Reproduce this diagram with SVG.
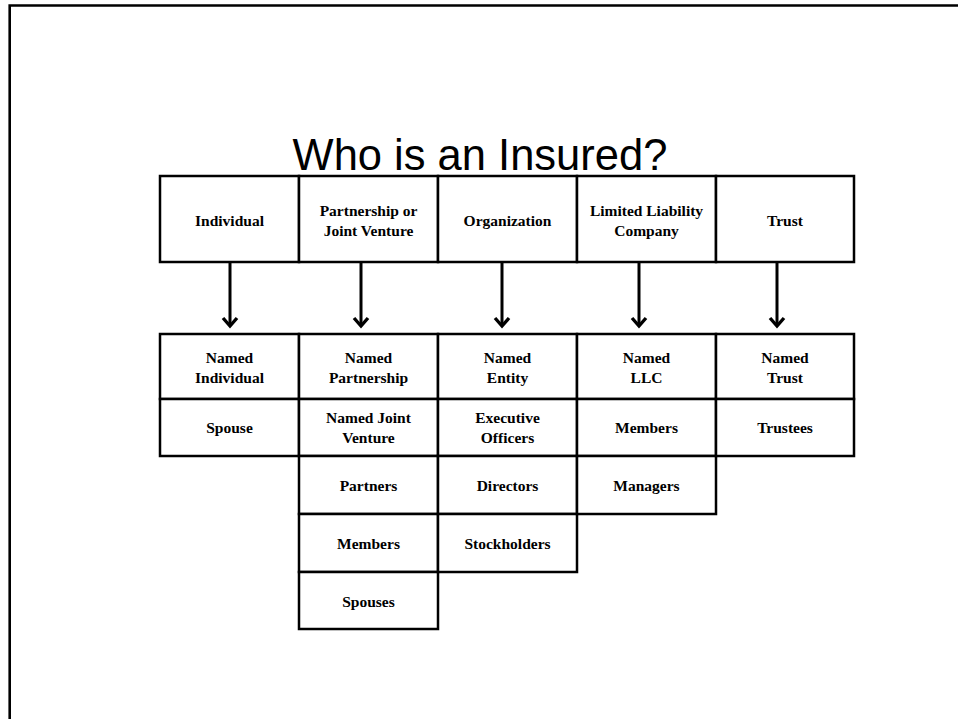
<svg xmlns="http://www.w3.org/2000/svg" width="958" height="719" viewBox="0 0 958 719">
  <style>
    .frame { fill: none; stroke: #000; stroke-width: 2.6; }
    .cell { fill: #fff; stroke: #000; stroke-width: 2.5; }
    .lbl { font-family: "Liberation Serif", "Times New Roman", serif; font-weight: bold; font-size: 15.5px; fill: #000; text-anchor: middle; }
    .title { font-family: "Liberation Sans", Arial, sans-serif; font-size: 43.5px; fill: #000; text-anchor: middle; }
    .conn { fill: none; stroke: #000; stroke-width: 3; }
  </style>
  <defs>
    <!-- open chevron head; drawn along +x so orient="auto" turns it with the line -->
    <marker id="head" markerUnits="userSpaceOnUse" markerWidth="20" markerHeight="20" refX="16" refY="10" orient="auto" viewBox="0 0 20 20">
      <path d="M8,3 L16,10 L8,17" fill="none" stroke="#000" stroke-width="3.4"/>
    </marker>
  </defs>

  <rect width="958" height="719" fill="#fff"/>
  <!-- slide frame (top and left edges) -->
  <path class="frame" d="M9.7,719 L9.7,5.5 L958,5.5"/>

  <text class="title" x="480" y="170">Who is an Insured?</text>

  <!-- header row -->
  <g id="individual">
    <rect class="cell" x="160" y="176" width="139" height="86"/>
    <text class="lbl" x="229.5" y="226">Individual</text>
  </g>
  <g id="partnership">
    <rect class="cell" x="299" y="176" width="139" height="86"/>
    <text class="lbl" x="368.5" y="216">Partnership or</text>
    <text class="lbl" x="368.5" y="236">Joint Venture</text>
  </g>
  <g id="organization">
    <rect class="cell" x="438" y="176" width="139" height="86"/>
    <text class="lbl" x="507.5" y="226">Organization</text>
  </g>
  <g id="llc">
    <rect class="cell" x="577" y="176" width="139" height="86"/>
    <text class="lbl" x="646.5" y="216">Limited Liability</text>
    <text class="lbl" x="646.5" y="236">Company</text>
  </g>
  <g id="trust">
    <rect class="cell" x="716" y="176" width="138" height="86"/>
    <text class="lbl" x="785" y="226">Trust</text>
  </g>

  <!-- connectors -->
  <g id="connectors">
    <line class="conn" x1="230" y1="262" x2="230" y2="326" marker-end="url(#head)"/>
    <line class="conn" x1="361" y1="262" x2="361" y2="326" marker-end="url(#head)"/>
    <line class="conn" x1="502" y1="262" x2="502" y2="326" marker-end="url(#head)"/>
    <line class="conn" x1="639" y1="262" x2="639" y2="326" marker-end="url(#head)"/>
    <line class="conn" x1="777" y1="262" x2="777" y2="326" marker-end="url(#head)"/>
  </g>

  <!-- Individual column -->
  <g id="named-individual">
    <rect class="cell" x="160" y="334" width="139" height="65"/>
    <text class="lbl" x="229.5" y="363">Named</text>
    <text class="lbl" x="229.5" y="383">Individual</text>
  </g>
  <g id="spouse">
    <rect class="cell" x="160" y="399" width="139" height="57"/>
    <text class="lbl" x="229.5" y="433">Spouse</text>
  </g>

  <!-- Partnership column -->
  <g id="named-partnership">
    <rect class="cell" x="299" y="334" width="139" height="65"/>
    <text class="lbl" x="368.5" y="363">Named</text>
    <text class="lbl" x="368.5" y="383">Partnership</text>
  </g>
  <g id="named-joint-venture">
    <rect class="cell" x="299" y="399" width="139" height="57"/>
    <text class="lbl" x="368.5" y="423">Named Joint</text>
    <text class="lbl" x="368.5" y="443">Venture</text>
  </g>
  <g id="partners">
    <rect class="cell" x="299" y="456" width="139" height="58"/>
    <text class="lbl" x="368.5" y="491">Partners</text>
  </g>
  <g id="partnership-members">
    <rect class="cell" x="299" y="514" width="139" height="58"/>
    <text class="lbl" x="368.5" y="549">Members</text>
  </g>
  <g id="spouses">
    <rect class="cell" x="299" y="572" width="139" height="57"/>
    <text class="lbl" x="368.5" y="607">Spouses</text>
  </g>

  <!-- Organization column -->
  <g id="named-entity">
    <rect class="cell" x="438" y="334" width="139" height="65"/>
    <text class="lbl" x="507.5" y="363">Named</text>
    <text class="lbl" x="507.5" y="383">Entity</text>
  </g>
  <g id="executive-officers">
    <rect class="cell" x="438" y="399" width="139" height="57"/>
    <text class="lbl" x="507.5" y="423">Executive</text>
    <text class="lbl" x="507.5" y="443">Officers</text>
  </g>
  <g id="directors">
    <rect class="cell" x="438" y="456" width="139" height="58"/>
    <text class="lbl" x="507.5" y="491">Directors</text>
  </g>
  <g id="stockholders">
    <rect class="cell" x="438" y="514" width="139" height="58"/>
    <text class="lbl" x="507.5" y="549">Stockholders</text>
  </g>

  <!-- LLC column -->
  <g id="named-llc">
    <rect class="cell" x="577" y="334" width="139" height="65"/>
    <text class="lbl" x="646.5" y="363">Named</text>
    <text class="lbl" x="646.5" y="383">LLC</text>
  </g>
  <g id="llc-members">
    <rect class="cell" x="577" y="399" width="139" height="57"/>
    <text class="lbl" x="646.5" y="433">Members</text>
  </g>
  <g id="managers">
    <rect class="cell" x="577" y="456" width="139" height="58"/>
    <text class="lbl" x="646.5" y="491">Managers</text>
  </g>

  <!-- Trust column -->
  <g id="named-trust">
    <rect class="cell" x="716" y="334" width="138" height="65"/>
    <text class="lbl" x="785" y="363">Named</text>
    <text class="lbl" x="785" y="383">Trust</text>
  </g>
  <g id="trustees">
    <rect class="cell" x="716" y="399" width="138" height="57"/>
    <text class="lbl" x="785" y="433">Trustees</text>
  </g>
</svg>
